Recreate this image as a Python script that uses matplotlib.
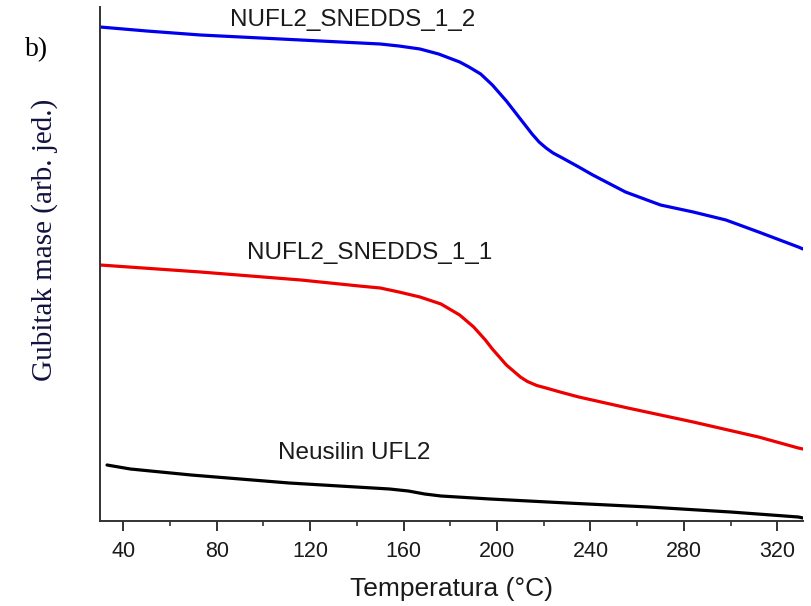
import numpy as np
import matplotlib
matplotlib.use("Agg")
import matplotlib.pyplot as plt
from matplotlib.ticker import MultipleLocator

# temperature (°C) and mass loss (arbitrary units)
t_blue = [30, 50, 73, 116, 150, 158, 167, 175, 184, 188, 193, 198, 204, 209, 212, 215, 218, 221, 224,
          228, 235, 241, 255, 270, 284, 298, 312, 329, 331]
m_blue = [494, 490, 486, 481, 477, 475, 472, 467, 459, 454, 447, 436, 420, 405, 396, 387, 379, 373, 368,
          363, 354, 346, 329, 316, 309, 301, 289, 274, 272]

t_red = [30, 73, 116, 141, 150, 158, 167, 176, 184, 190, 195, 198, 201, 204, 207, 210, 213, 217, 221,
         227, 235, 256, 284, 312, 329, 331]
m_red = [256, 249, 241, 235, 233, 229, 224, 217, 206, 194, 181, 172, 164, 156, 150, 144, 139.5, 135.5,
         133, 129, 124, 113, 99, 84, 73, 72]

t_black = [33, 43, 69, 111, 154, 162, 169, 176, 197, 230, 265, 300, 329, 331]
m_black = [56, 52, 46, 38, 32, 30, 27, 25, 22, 18, 14, 9, 4, 3]

labels = ["NUFL2_SNEDDS_1_2", "NUFL2_SNEDDS_1_1", "Neusilin UFL2"]

fig = plt.figure(figsize=(8.12, 6.06), dpi=100)
ax = fig.add_axes([100 / 812, (606 - 521) / 606, 703 / 812, 514 / 606])

for t, m, c in [(t_blue, m_blue, "#0000ee"), (t_red, m_red, "#ee0000"), (t_black, m_black, "black")]:
    ax.plot(t, m, color=c, lw=2.3, solid_joinstyle="round", solid_capstyle="round")

ax.set_xlim(30, 331)
ax.set_ylim(0, 514)

# curve names
sans = "Liberation Sans"
ax.text(138, 501, labels[0], fontsize=17.5, family=sans, ha="center", va="center", color="#1a1a1a")
ax.text(145.6, 268, labels[1], fontsize=17.5, family=sans, ha="center", va="center", color="#1a1a1a")
ax.text(139, 68, labels[2], fontsize=17.5, family=sans, ha="center", va="center", color="#1a1a1a")

ax.spines["top"].set_visible(False)
ax.spines["right"].set_visible(False)
for s in ["left", "bottom"]:
    ax.spines[s].set_linewidth(1.4)
    ax.spines[s].set_color("#333333")

ax.set_yticks([])
ax.xaxis.set_minor_locator(MultipleLocator(20))
ax.set_xticks(np.arange(40, 331, 40))
ax.tick_params(axis="x", which="major", direction="out", length=7.2, width=1.4, color="#333333",
               labelsize=15.5, pad=7, labelcolor="#1a1a1a")
ax.tick_params(axis="x", which="minor", direction="out", length=3.6, width=1.2, color="#333333")
for lab in ax.get_xticklabels():
    lab.set_family(sans)

ax.set_xlabel("Temperatura (°C)", fontsize=19, family=sans, labelpad=11, color="#1a1a1a")
ax.set_ylabel("Gubitak mase (arb. jed.)", fontsize=21, family="Liberation Serif",
              color="#12123e")
ax.yaxis.set_label_coords(-0.060, 0.547)

fig.text(25 / 812, 1 - 50 / 606, "b)", fontsize=20, family="Liberation Serif", va="center")

fig.savefig("out.png", dpi=100)
